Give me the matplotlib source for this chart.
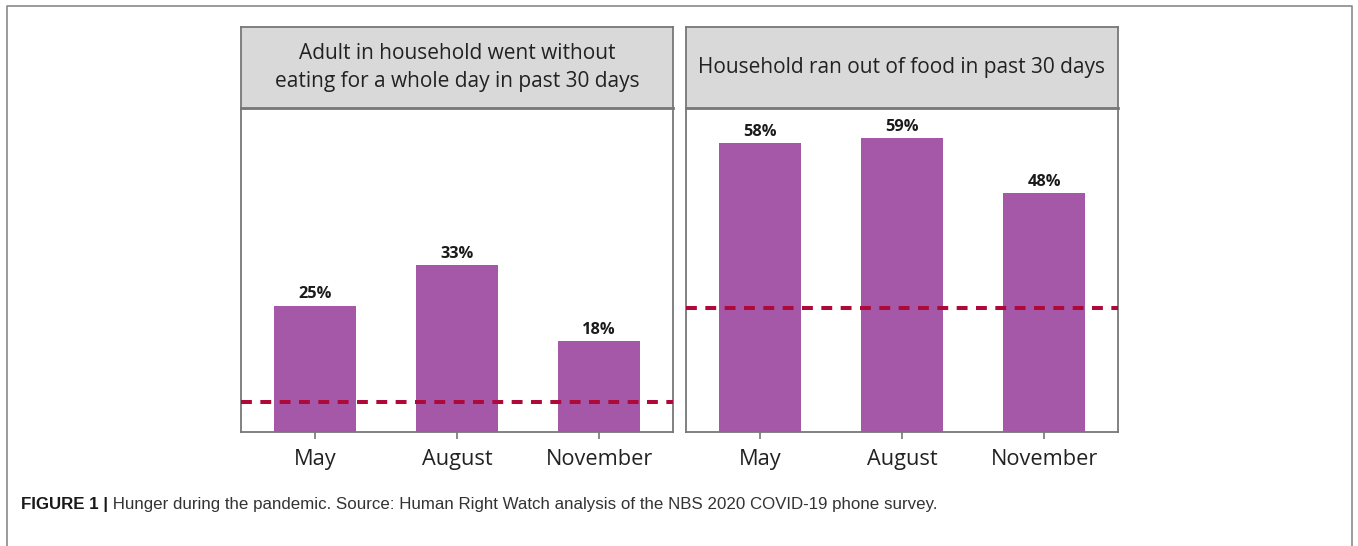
"""Hunger during the pandemic: two bar panels with header strips."""
import matplotlib
matplotlib.use("Agg")
import matplotlib.pyplot as plt
from matplotlib.lines import Line2D

# data
months = ["May", "August", "November"]
went_without = [25, 33, 18]
ran_out = [58, 59, 48]
baseline = [6, 25]  # dashed reference lines
titles = ["Adult in household went without\neating for a whole day in past 30 days",
          "Household ran out of food in past 30 days"]
caption_bold = "FIGURE 1 |"
caption_text = " Hunger during the pandemic. Source: Human Right Watch analysis of the NBS 2020 COVID-19 phone survey."

W, H = 1358, 546
BAR = "#a658a8"
DASH = "#ad0a3a"
EDGE = "#777777"
FONT = ["Open Sans", "DejaVu Sans"]

fig = plt.figure(figsize=(W / 100, H / 100), dpi=100)
fig.patch.set_facecolor("white")


def box(x0, y0, x1, y1):
    # pixel box (top-left origin) -> figure rect
    return [x0 / W, 1 - y1 / H, (x1 - x0) / W, (y1 - y0) / H]


panels = [(241, 673, went_without, 64.2), (686, 1118, ran_out, 65.1)]
for k, (x0, x1, vals, top) in enumerate(panels):
    ax = fig.add_axes(box(x0, 108, x1, 432))
    xs = range(len(vals))
    ax.bar(xs, vals, width=0.58, color=BAR, zorder=2)
    for x, v in zip(xs, vals):
        ax.text(x, v + 0.7, f"{v}%", ha="center", va="bottom", fontsize=11.8,
                fontweight="bold", color="#1a1a1a", family=FONT)
    ax.axhline(baseline[k], color=DASH, lw=2.9, ls=(0, (2.7, 2.1)), zorder=3)
    ax.set_xlim(-0.52, 2.52)
    ax.set_ylim(0, top)
    ax.set_yticks([])
    ax.set_xticks(list(xs))
    ax.set_xticklabels(months, fontsize=15.7, color="#222222", family=FONT)
    ax.tick_params(axis="x", length=5, width=1.2, color=EDGE, pad=7)
    for s in ax.spines.values():
        s.set_color(EDGE)
        s.set_linewidth(1.3)

    hd = fig.add_axes(box(x0, 27, x1, 108))
    hd.set_facecolor("#d9d9d9")
    hd.set_xticks([]); hd.set_yticks([])
    for s in hd.spines.values():
        s.set_color(EDGE)
        s.set_linewidth(1.3)
    hd.spines["bottom"].set_linewidth(2)
    hd.text(0.5, 0.5, titles[k], ha="center", va="center", fontsize=15,
            color="#222222", family=FONT, linespacing=1.45, transform=hd.transAxes)

# outer frame (bottom cut off)
fx = [7 / W, 7 / W, 1352 / W, 1352 / W]
fy = [0, 1 - 6 / H, 1 - 6 / H, 0]
fig.add_artist(Line2D(fx, fy, color="#8a8a8a", lw=1.2, transform=fig.transFigure))

# caption
cap_font = ["Liberation Sans Narrow", "Liberation Sans", "DejaVu Sans"]
t = fig.text(21 / W, 1 - 504 / H, caption_bold, fontsize=12.2, fontweight="bold",
             color="#1a1a1a", family=cap_font, va="center")
fig.canvas.draw()
bb = t.get_window_extent()
fig.text(bb.x1 / W, 1 - 504 / H, caption_text, fontsize=12.2, color="#333333",
         family=cap_font, va="center")

fig.savefig("out.png", dpi=100, facecolor="white")
